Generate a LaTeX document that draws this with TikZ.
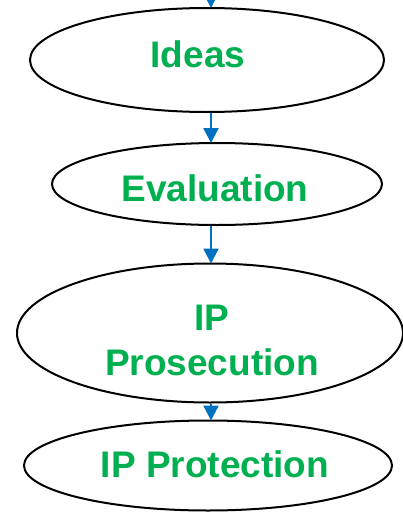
\documentclass[tikz,border=0pt]{standalone}
\usepackage{fontspec}
\setmainfont{Liberation Sans}
\usetikzlibrary{shapes.geometric,arrows.meta}
\definecolor{stagegreen}{RGB}{0,176,80}
\definecolor{flowblue}{RGB}{0,112,192}
\tikzset{
  stagebox/.style={ellipse, draw=black, line width=2pt, inner sep=0pt},
  stagetext/.style={anchor=base, inner sep=0pt,
    font=\fontsize{37}{45}\selectfont\bfseries, text=stagegreen, align=center},
  flowarrow/.style={draw=flowblue, line width=2.4pt,
    -{Triangle[length=15pt,width=15pt]}, shorten >=-1pt}
}
\begin{document}
\begin{tikzpicture}[x=1pt,y=-1pt]
\useasboundingbox (0,0) rectangle (403,514);
\node[stagebox, minimum width=354pt, minimum height=104pt] (ideas) at (207,60) {};
\node[stagebox, minimum width=330pt, minimum height=82pt] (eval) at (217,184) {};
\node[stagebox, minimum width=386pt, minimum height=139pt] (pros) at (210,333) {};
\node[stagebox, minimum width=368pt, minimum height=90pt] (prot) at (208,465.5) {};
\node[stagetext] (ideasT) at (198,67) {Ideas};
\node[stagetext] (evalT) at (215,201) {Evaluation};
\node[stagetext] (prosT) at (212,375) {IP\\Prosecution};
\node[stagetext] (protT) at (215,477) {IP Protection};
\coordinate (col) at (211,0);
\coordinate (top) at (211,-2);
\draw[flowarrow] (top) -- (ideas.north -| col);
\draw[flowarrow] (ideas.south -| col) -- (eval.north -| col);
\draw[flowarrow] (eval.south -| col) -- (pros.north -| col);
\draw[flowarrow] (pros.south -| col) -- (prot.north -| col);
\end{tikzpicture}
\end{document}
